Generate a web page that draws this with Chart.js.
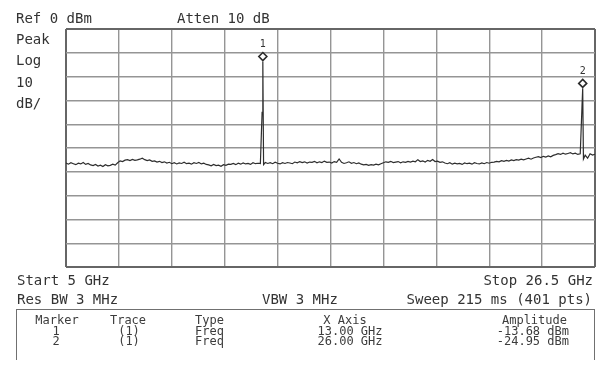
<!DOCTYPE html>
<html lang="en">
<head>
<meta charset="UTF-8">
<title>Spectrum 5 - 26.5 GHz</title>
<script src="https://cdn.jsdelivr.net/npm/chart.js"></script>
<style>
  body {
    margin: 0;
    background: #fff;
    font-family: "DejaVu Sans Mono", monospace;
    color: #333;
  }

  #screen {
    position: relative;
    width: 605px;
    height: 370px;
    overflow: hidden;
    background: #fff;
  }

  #chartBox {
    position: absolute;
    left: 0;
    top: 0;
    width: 605px;
    height: 370px;
  }

  .txt {
    position: absolute;
    font-size: 14px;
    line-height: 14px;
    white-space: pre;
  }

  .cell {
    position: absolute;
    font-size: 12px;
    line-height: 12px;
    white-space: pre;
    color: #3c3c3c;
  }

  #table {
    position: absolute;
    left: 16px;
    top: 309px;
    width: 577px;
    height: 50px;
    border: 1.5px solid #707070;
    border-bottom: none;
  }
</style>
</head>

<body>
<div id="screen">
    <div id="chartBox"><canvas id="spectrum"></canvas></div>

    <div class="txt" style="left:16px; top:11px;">Ref 0 dBm</div>
    <div class="txt" style="left:177px; top:11px;">Atten 10 dB</div>
    <div class="txt" style="left:16px; top:32px;">Peak</div>
    <div class="txt" style="left:16px; top:53px;">Log</div>
    <div class="txt" style="left:16px; top:75px;">10</div>
    <div class="txt" style="left:16px; top:96px;">dB/</div>

    <div class="txt" style="left:17px; top:273px;">Start 5 GHz</div>
    <div class="txt" style="right:12px; top:273px;">Stop 26.5 GHz</div>
    <div class="txt" style="left:17px; top:292px;">Res BW 3 MHz</div>
    <div class="txt" style="left:262px; top:292px;">VBW 3 MHz</div>
    <div class="txt" style="right:13px; top:292px;">Sweep 215 ms (401 pts)</div>

    <div id="table"></div>
</div>

<script>
    // trace: one level every 0.1 GHz from 5.0 to 26.5 GHz (dBm)
    const startGHz = 5;
    const stepGHz = 0.1;
    const traceLevels = [
        -56.3, -56.8, -56.2, -56.6, -57.0, -56.4, -56.7, -56.1, -56.9, -56.5, -57.1,
        -57.4, -56.9, -57.6, -57.2, -57.8, -57.0, -57.5, -57.3, -56.8, -57.2,
        -56.2, -55.4, -55.7,
        -55.1, -54.9, -55.3, -54.8, -55.2, -55.0, -54.7, -54.3, -54.9, -55.3, -55.0, -55.6,
        -55.4, -55.9, -55.6, -56.1, -55.8, -56.3, -56.0, -56.6,
        -56.2, -56.7, -56.3, -56.5, -56.0, -56.6, -56.4, -56.8, -56.2, -56.5, -56.1, -56.7, -56.4, -56.9,
        -57.1, -57.5, -56.9, -57.4, -57.2, -57.7, -57.0, -57.3, -56.8,
        -56.9, -56.5, -57.0, -56.4, -56.8, -56.3, -56.7, -56.5, -56.9, -56.2, -56.6, -56.4, -56.5,
        -13.68,
        -56.1, -56.5, -56.2, -56.6, -56.0, -56.4, -56.7, -56.2, -56.5, -56.1, -56.3, -56.6,
        -55.9, -56.2, -55.7, -56.1, -55.8, -56.3, -55.9, -56.0, -55.6, -56.2, -55.8, -56.1, -55.5, -56.0, -55.9, -56.3, -55.7, -56.0,
        -54.6,
        -56.0, -56.5, -56.2, -55.8, -56.4, -56.1, -56.6, -56.3,
        -56.8, -57.1, -56.9, -57.3, -57.0, -57.2, -56.8, -57.1, -56.6,
        -56.2, -55.8, -56.0, -55.6, -56.1, -55.9, -55.7, -56.2, -55.8, -56.0, -55.6, -55.9,
        -55.5, -55.8, -54.9, -55.7, -55.4, -55.9, -55.2, -55.6, -54.8, -55.7, -55.5, -56.0, -55.8,
        -56.3, -56.6, -56.2, -56.8, -56.4, -56.7, -56.5, -56.9, -56.3, -56.6, -56.4, -56.8, -56.2, -56.5, -56.7, -56.3, -56.6, -56.1, -56.4, -56.0,
        -55.9, -55.6, -55.8, -55.3, -55.6, -55.2, -55.5, -55.0, -55.3, -54.9, -55.1, -54.7, -55.0, -54.6, -54.3, -54.7, -54.2,
        -53.9, -53.6, -54.0, -53.5, -53.8, -53.3, -53.7, -53.1,
        -52.8, -52.4, -52.7, -52.2, -52.6, -52.3, -52.0, -52.5, -52.2, -52.7, -52.4,
        -24.95,
        -53.0, -54.3, -52.4, -53.0, -52.6
    ];

    // extra sweep points on the flanks of the two signals
    const flankFreqs = [12.97, 13.03, 25.97, 26.03];
    const flankLevels = [-35, -57, -33, -54.6];

    // graticule: 10 divisions each way
    const gridGHz = [5, 7.15, 9.3, 11.45, 13.6, 15.75, 17.9, 20.05, 22.2, 24.35, 26.5];
    const gridDbm = [-100, -90, -80, -70, -60, -50, -40, -30, -20, -10, 0];

    // marker table
    const markerNum = [1, 2];
    const markerTrace = ["(1)", "(1)"];
    const markerType = ["Freq", "Freq"];
    const markerGHz = [13.00, 26.00];
    const markerDbm = [-13.68, -24.95];

    const points = traceLevels.map((v, i) => ({ x: +(startGHz + i * stepGHz).toFixed(2), y: v }));
    flankFreqs.forEach((f, i) => points.push({ x: f, y: flankLevels[i] }));
    points.sort((a, b) => a.x - b.x);

    const edge = (c) => c.index === 0 || c.index === 10;

    const markerPlugin = {
        id: 'markers',
        afterDatasetsDraw(chart) {
            const { ctx, scales: { x, y } } = chart;
            ctx.save();
            markerGHz.forEach((f, i) => {
                const px = x.getPixelForValue(f);
                const py = y.getPixelForValue(markerDbm[i]) - 5;
                ctx.beginPath();
                ctx.moveTo(px, py - 4);
                ctx.lineTo(px + 4, py);
                ctx.lineTo(px, py + 4);
                ctx.lineTo(px - 4, py);
                ctx.closePath();
                ctx.fillStyle = '#fff';
                ctx.fill();
                ctx.lineWidth = 1.6;
                ctx.strokeStyle = '#2a2a2a';
                ctx.stroke();
                ctx.fillStyle = '#333';
                ctx.font = '10px "DejaVu Sans Mono"';
                ctx.textAlign = 'center';
                ctx.textBaseline = 'middle';
                ctx.fillText(String(markerNum[i]), px, py - 12);
            });
            ctx.restore();
        }
    };

    new Chart(document.getElementById('spectrum'), {
        type: 'line',
        data: {
            datasets: [{
                data: points,
                borderColor: '#2e2e2e',
                borderWidth: 1.2,
                pointRadius: 0,
                tension: 0
            }]
        },
        options: {
            responsive: true,
            maintainAspectRatio: false,
            animation: false,
            layout: { padding: { left: 66, top: 29, right: 10, bottom: 103 } },
            plugins: { legend: { display: false }, tooltip: { enabled: false } },
            scales: {
                x: {
                    type: 'linear',
                    min: 5,
                    max: 26.5,
                    afterBuildTicks: (s) => { s.ticks = gridGHz.map(v => ({ value: v })); },
                    ticks: { display: false },
                    border: { display: false },
                    grid: {
                        drawTicks: false,
                        color: (c) => edge(c) ? '#666' : '#959595',
                        lineWidth: (c) => edge(c) ? 2 : 1.4
                    }
                },
                y: {
                    min: -100,
                    max: 0,
                    afterBuildTicks: (s) => { s.ticks = gridDbm.map(v => ({ value: v })); },
                    ticks: { display: false },
                    border: { display: false },
                    grid: {
                        drawTicks: false,
                        color: (c) => edge(c) ? '#666' : '#959595',
                        lineWidth: (c) => edge(c) ? 2 : 1.4
                    }
                }
            }
        },
        plugins: [markerPlugin]
    });

    // marker table below the screen
    const table = document.getElementById('table');
    function cell(text, left, top, align) {
        const d = document.createElement('div');
        d.className = 'cell';
        d.textContent = text;
        d.style.top = top + 'px';
        if (align === 'center') {
            d.style.left = (left - 60) + 'px';
            d.style.width = '120px';
            d.style.textAlign = 'center';
        } else if (align === 'right') {
            d.style.right = (577 - left) + 'px';
        } else {
            d.style.left = left + 'px';
        }
        table.appendChild(d);
    }
    cell('Marker', 40, 4, 'center');
    cell('Trace', 111, 4, 'center');
    cell('Type', 178, 4, 'left');
    cell('X Axis', 328, 4, 'center');
    cell('Amplitude', 550, 4, 'right');
    markerNum.forEach((m, i) => {
        const top = 14.5 + i * 10.5;
        cell(String(m), 39, top, 'center');
        cell(markerTrace[i], 112, top, 'center');
        cell(markerType[i], 178, top, 'left');
        cell(markerGHz[i].toFixed(2) + ' GHz', 333, top, 'center');
        cell(markerDbm[i].toFixed(2) + ' dBm', 552, top, 'right');
    });
</script>
</body>
</html>
